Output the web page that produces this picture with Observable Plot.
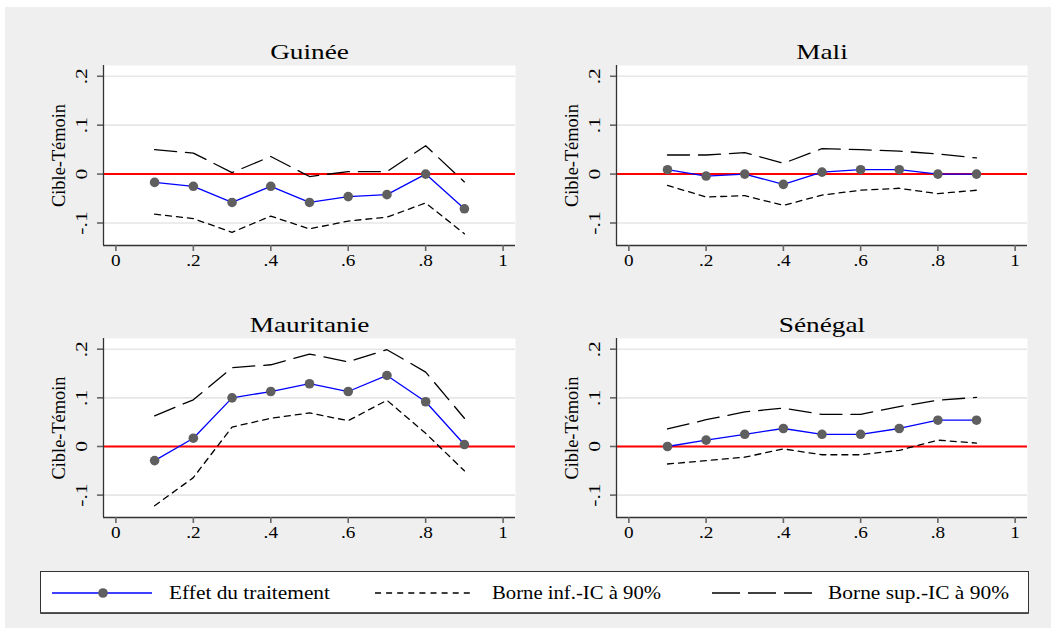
<!DOCTYPE html>
<html>
<head>
<meta charset="utf-8">
<script src="https://cdn.jsdelivr.net/npm/d3@7"></script>
<script src="https://cdn.jsdelivr.net/npm/@observablehq/plot@0.6"></script>
<style>
  html, body { margin: 0; padding: 0; background: #ffffff; }
  #page { position: relative; width: 1051px; height: 628px; overflow: hidden; }
  #bg { position: absolute; left: 5px; top: 7px; width: 1046px; height: 621px; background: #efefef; }
  svg { position: absolute; overflow: visible; }
</style>
</head>
<body>
<div id="page"><div id="bg"></div></div>
<script>
// ---- Data ----
const quantiles = [0.1, 0.2, 0.3, 0.4, 0.5, 0.6, 0.7, 0.8, 0.9];
const countries = ["Guinée", "Mali", "Mauritanie", "Sénégal"];

const guineeEffet = [-0.017, -0.025, -0.058, -0.025, -0.058, -0.046, -0.042, 0.000, -0.071];
const guineeInf   = [-0.082, -0.091, -0.119, -0.086, -0.112, -0.096, -0.088, -0.059, -0.122];
const guineeSup   = [0.050, 0.043, 0.003, 0.036, -0.005, 0.005, 0.005, 0.058, -0.016];

const maliEffet = [0.009, -0.004, 0.000, -0.021, 0.004, 0.009, 0.009, 0.000, 0.000];
const maliInf   = [-0.023, -0.047, -0.044, -0.064, -0.043, -0.033, -0.029, -0.040, -0.033];
const maliSup   = [0.039, 0.039, 0.044, 0.022, 0.052, 0.050, 0.047, 0.041, 0.033];

const mauritanieEffet = [-0.029, 0.017, 0.100, 0.113, 0.129, 0.113, 0.146, 0.092, 0.004];
const mauritanieInf   = [-0.122, -0.064, 0.040, 0.058, 0.069, 0.053, 0.095, 0.027, -0.050];
const mauritanieSup   = [0.063, 0.096, 0.162, 0.168, 0.190, 0.174, 0.199, 0.153, 0.058];

const senegalEffet = [0.000, 0.013, 0.025, 0.037, 0.025, 0.025, 0.037, 0.054, 0.054];
const senegalInf   = [-0.036, -0.029, -0.022, -0.005, -0.017, -0.017, -0.008, 0.013, 0.007];
const senegalSup   = [0.036, 0.055, 0.071, 0.079, 0.066, 0.066, 0.082, 0.095, 0.101];

const xTicks = [0, 0.2, 0.4, 0.6, 0.8, 1];
const xTickLabels = ["0", ".2", ".4", ".6", ".8", "1"];
const yTicks = [-0.1, 0, 0.1, 0.2];
const yTickLabels = ["-.1", "0", ".1", ".2"];
const yLabel = "Cible-Témoin";
const legendLabels = ["Effet du traitement", "Borne inf.-IC à 90%", "Borne sup.-IC à 90%"];

const series = {
  "Guinée": [guineeEffet, guineeInf, guineeSup],
  "Mali": [maliEffet, maliInf, maliSup],
  "Mauritanie": [mauritanieEffet, mauritanieInf, mauritanieSup],
  "Sénégal": [senegalEffet, senegalInf, senegalSup]
};

// ---- Layout ----
const FONT = "'Liberation Serif', 'DejaVu Serif', 'Times New Roman', serif";
const xDomain = [-0.032, 1.032];
const yDomain = [-0.146, 0.222];
const panels = [
  {name: "Guinée",     left: 103, top: 65,  w: 412, h: 180},
  {name: "Mali",       left: 616, top: 65,  w: 411, h: 180},
  {name: "Mauritanie", left: 103, top: 338, w: 412, h: 179},
  {name: "Sénégal",    left: 616, top: 338, w: 411, h: 179}
];
const ML = 75, MT = 45, MR = 8, MB = 40;
const page = document.getElementById("page");

function setStretch(t, factor) {
  const len = t.getComputedTextLength();
  if (len > 0) {
    t.setAttribute("textLength", (len * factor).toFixed(2));
    t.setAttribute("lengthAdjust", "spacingAndGlyphs");
  }
}
function stretchAll(svg, name) {
  svg.querySelectorAll("text").forEach(t => {
    const s = t.textContent;
    const tr = (t.getAttribute("transform") || "") + " " + ((t.parentNode && t.parentNode.getAttribute && t.parentNode.getAttribute("transform")) || "");
    const rotated = /rotate/.test(tr);
    if (s === name) setStretch(t, 1.24);
    else if (s === yLabel) setStretch(t, 1.02);
    else if (rotated && yTickLabels.includes(s)) setStretch(t, 1.35);
    else if (!rotated && xTickLabels.includes(s)) setStretch(t, 1.2);
  });
}

for (const p of panels) {
  const [eff, inf, sup] = series[p.name];
  const rows = quantiles.map((q, i) => ({q, eff: eff[i], inf: inf[i], sup: sup[i]}));
  const xt = xTicks.map((v, i) => ({v, s: xTickLabels[i]}));
  const yt = yTicks.map((v, i) => ({v, s: yTickLabels[i]}));
  const txt = {fill: "#000", fontWeight: "normal", stroke: "none"};

  const svg = Plot.plot({
    width: ML + p.w + MR,
    height: MT + p.h + MB,
    marginLeft: ML, marginTop: MT, marginRight: MR, marginBottom: MB,
    style: {background: "transparent", fontFamily: FONT, color: "#000", overflow: "visible"},
    x: {domain: xDomain},
    y: {domain: yDomain},
    marks: [
      Plot.frame({fill: "#ffffff", stroke: null}),
      Plot.ruleY(yTicks, {stroke: "#e6e6e6", strokeWidth: 1.6}),
      Plot.ruleY([0], {stroke: "#ff0000", strokeWidth: 2}),
      Plot.line(rows, {x: "q", y: "inf", stroke: "#000", strokeWidth: 1.3, strokeDasharray: "6,5"}),
      Plot.line(rows, {x: "q", y: "sup", stroke: "#000", strokeWidth: 1.3, strokeDasharray: "22,9"}),
      Plot.line(rows, {x: "q", y: "eff", stroke: "#0000ff", strokeWidth: 1.3}),
      Plot.dot(rows, {x: "q", y: "eff", r: 4.8, fill: "#5f5f5f", stroke: null}),
      Plot.ruleY([yDomain[0]], {stroke: "#333", strokeWidth: 1.3}),
      Plot.ruleX([xDomain[0]], {stroke: "#333", strokeWidth: 1.3}),
      Plot.axisX({ticks: xTicks, tickSize: 6, tickFormat: () => "", label: null, stroke: "#666", strokeWidth: 1.6}),
      Plot.axisY({ticks: yTicks, tickSize: 6, tickFormat: () => "", label: null, stroke: "#666", strokeWidth: 1.6}),
      Plot.text(xt, {x: "v", text: "s", frameAnchor: "bottom", textAnchor: "middle", dy: 20, fontSize: 16, ...txt}),
      Plot.text(yt, {y: "v", text: "s", frameAnchor: "left", textAnchor: "middle", dx: -21.5, rotate: -90, fontSize: 16, ...txt}),
      Plot.text([yLabel], {text: d => d, frameAnchor: "left", textAnchor: "middle", dx: -44.5, rotate: -90, fontSize: 18, ...txt}),
      Plot.text([p.name], {text: d => d, frameAnchor: "top", textAnchor: "middle", dy: -7, lineAnchor: "bottom", fontSize: 22, ...txt})
    ]
  });
  svg.style.left = (p.left - ML) + "px";
  svg.style.top = (p.top - MT) + "px";
  page.appendChild(svg);
  stretchAll(svg, p.name);
}

// ---- Legend ----
const NS = "http://www.w3.org/2000/svg";
const lg = document.createElementNS(NS, "svg");
lg.setAttribute("width", 992); lg.setAttribute("height", 46);
lg.style.left = "39px"; lg.style.top = "570px";
function el(tag, attrs, parent) {
  const e = document.createElementNS(NS, tag);
  for (const k in attrs) e.setAttribute(k, attrs[k]);
  (parent || lg).appendChild(e);
  return e;
}
el("rect", {x: 1.5, y: 1.5, width: 988, height: 41.5, fill: "#ffffff", stroke: "#333", "stroke-width": 1});
el("line", {x1: 1.5, x2: 989.5, y1: 43.2, y2: 43.2, stroke: "#444", "stroke-width": 1.8});
// symbols
el("line", {x1: 13, x2: 113, y1: 23, y2: 23, stroke: "#0000ff", "stroke-width": 1.4});
el("circle", {cx: 64, cy: 23, r: 4.8, fill: "#5f5f5f"});
el("line", {x1: 336, x2: 431, y1: 23, y2: 23, stroke: "#000", "stroke-width": 1.3, "stroke-dasharray": "6,5.1"});
el("line", {x1: 673, x2: 773, y1: 23, y2: 23, stroke: "#000", "stroke-width": 1.5, "stroke-dasharray": "28,8"});
const lx = [130, 453, 789];
const lw = [161, 169, 181];
legendLabels.forEach((s, i) => {
  const t = el("text", {x: lx[i], y: 29, "font-family": FONT, "font-size": 18, fill: "#000",
    textLength: lw[i], lengthAdjust: "spacingAndGlyphs"});
  t.textContent = s;
});
page.appendChild(lg);
</script>
</body>
</html>
